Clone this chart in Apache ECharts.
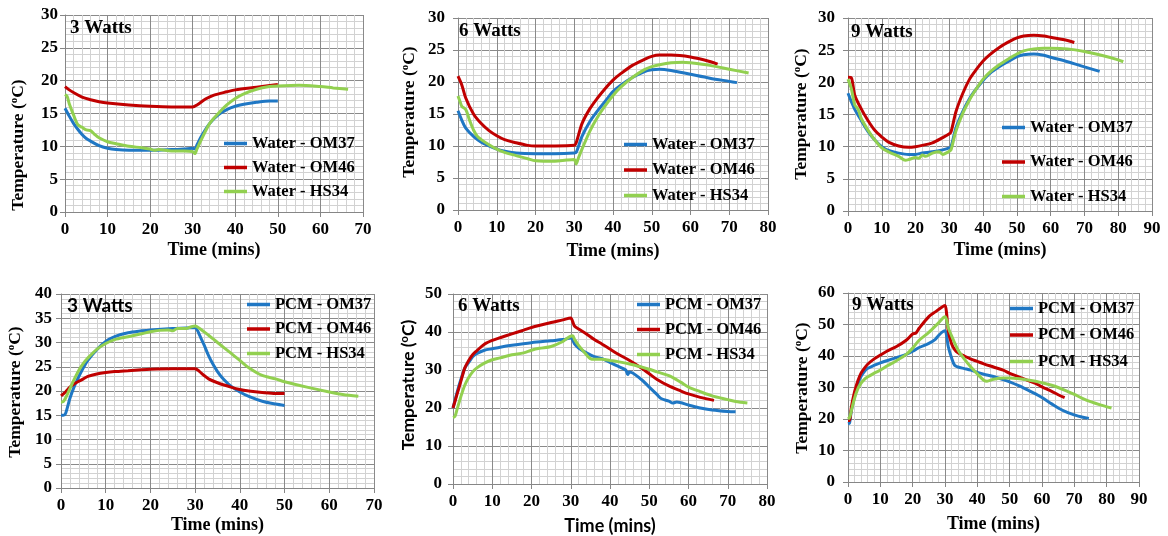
<!DOCTYPE html>
<html><head><meta charset="utf-8">
<script src="https://cdn.jsdelivr.net/npm/echarts@6/dist/echarts.min.js"></script>
<style>html,body{margin:0;padding:0;background:#fff}#c{width:1168px;height:536px}</style>
</head><body><div id="c"></div>
<script>
// ---------- DATA (time in mins, temperature in °C) ----------
const waterNames = ['Water - OM37', 'Water - OM46', 'Water - HS34'];
const pcmNames = ['PCM - OM37', 'PCM - OM46', 'PCM - HS34'];
const panelTitles = ['3 Watts', '6 Watts', '9 Watts', '3 Watts', '6 Watts', '9 Watts'];
const xMaxes = [70, 80, 90, 70, 80, 90];
const yMaxes = [30, 30, 30, 40, 50, 60];
const yIntervals = [5, 5, 5, 5, 10, 10];

const water3_OM37 = [[0,15.8],[1,14.6],[2,13.5],[3,12.6],[4,11.8],[5,11.2],[6,10.8],[8,10.1],[10,9.7],[12,9.5],[15,9.4],[20,9.4],[25,9.5],[28,9.6],[30,9.7],[30.5,9.6],[31,10.2],[32,11.5],[34,13.5],[36,14.8],[38,15.6],[40,16.1],[42,16.4],[45,16.7],[48,16.9],[50,16.9]];
const water3_OM46 = [[0,19.1],[1,18.6],[2,18.2],[4,17.5],[6,17.1],[8,16.8],[10,16.6],[15,16.3],[20,16.1],[25,16.0],[30,16.0],[31,16.3],[33,17.2],[35,17.8],[38,18.3],[40,18.6],[45,19.0],[50,19.4]];
const water3_HS34 = [[0,17.9],[0.5,17.6],[1,16.5],[2,14.8],[3,13.3],[4,12.9],[5,12.5],[6,12.4],[7,11.8],[8,11.3],[10,10.7],[12,10.4],[15,10.0],[18,9.8],[20,9.6],[21,9.4],[22,9.5],[25,9.3],[28,9.3],[30,9.2],[30.5,8.9],[31,9.6],[32,11.0],[34,13.5],[36,15.0],[38,16.3],[40,17.3],[42,18.0],[45,18.7],[48,19.1],[50,19.2],[55,19.3],[60,19.1],[63,18.9],[66.5,18.7]];

const water6_OM37 = [[0,15.5],[1,14.0],[2,12.8],[4,11.5],[6,10.6],[8,10.0],[10,9.5],[12,9.2],[15,8.9],[20,8.8],[25,8.8],[30,8.9],[30.5,9.0],[32,11.5],[34,13.8],[36,15.5],[38,17.0],[40,18.5],[42,19.5],[45,20.7],[48,21.6],[50,21.9],[52,22.0],[55,21.8],[60,21.2],[65,20.6],[70,20.1],[72,19.9]];
const water6_OM46 = [[0,20.9],[1,19.5],[2,17.5],[4,15.0],[6,13.5],[8,12.4],[10,11.6],[12,11.0],[15,10.5],[18,10.1],[20,10.0],[25,10.0],[30,10.1],[30.5,10.5],[32,13.5],[34,15.8],[36,17.5],[38,19.0],[40,20.3],[42,21.3],[45,22.6],[48,23.5],[50,24.0],[52,24.2],[55,24.2],[60,23.9],[65,23.2],[67,22.8]];
const water6_HS34 = [[0,17.8],[0.5,17.0],[1,16.2],[2,15.7],[3,14.0],[4,12.5],[5,11.5],[6,11.0],[8,10.2],[10,9.5],[12,9.0],[15,8.5],[18,8.0],[20,7.7],[25,7.6],[28,7.8],[30,7.9],[30.5,7.2],[31,8.0],[32,9.5],[34,12.3],[36,14.5],[38,16.3],[40,17.9],[42,19.2],[45,20.7],[48,21.9],[50,22.4],[52,22.7],[55,23.0],[58,23.1],[60,23.0],[65,22.6],[70,22.0],[75,21.4]];

const water9_OM37 = [[0,18.3],[1,17.0],[2,15.8],[4,14.0],[6,12.3],[8,11.0],[10,10.0],[12,9.4],[15,9.0],[18,8.8],[20,8.8],[22,9.0],[25,9.2],[28,9.5],[30,9.8],[30.5,10.0],[32,13.0],[34,15.5],[36,17.5],[38,19.0],[40,20.3],[42,21.4],[45,22.5],[48,23.4],[50,24.0],[52,24.3],[55,24.4],[58,24.2],[60,23.9],[65,23.2],[70,22.4],[74.5,21.7]];
const water9_OM46 = [[0,20.8],[1,20.7],[2,18.0],[4,15.8],[6,14.0],[8,12.5],[10,11.5],[12,10.7],[15,10.1],[18,9.9],[20,10.0],[22,10.2],[25,10.6],[28,11.4],[30,12.0],[30.5,12.3],[32,15.5],[34,18.3],[36,20.5],[38,22.0],[40,23.3],[42,24.3],[45,25.5],[48,26.4],[50,26.9],[52,27.2],[55,27.3],[58,27.2],[60,27.0],[65,26.5],[67,26.2]];
const water9_HS34 = [[0,20.5],[1,19.0],[2,16.5],[3,15.8],[4,14.3],[6,12.5],[8,11.0],[10,9.8],[12,9.2],[15,8.5],[17,7.9],[18,8.0],[20,8.3],[21,8.2],[22,8.7],[23,8.5],[25,9.0],[27,9.2],[28,8.8],[29,9.0],[30,9.3],[30.5,9.5],[32,12.5],[34,15.2],[36,17.3],[38,19.0],[40,20.5],[42,21.6],[45,22.8],[48,23.8],[50,24.4],[52,24.9],[55,25.2],[58,25.3],[60,25.3],[65,25.2],[70,24.8],[75,24.2],[80,23.5],[81.5,23.2]];

const pcm3_OM37 = [[0,15.0],[0.5,15.0],[1,15.3],[2,18.5],[3,21.0],[4,23.0],[5,24.8],[6,26.3],[8,28.5],[10,30.2],[12,31.2],[15,32.0],[18,32.4],[20,32.6],[25,32.9],[28,33.0],[30,33.1],[30.5,32.5],[31,31.5],[32,29.5],[33,27.3],[34,25.5],[35,24.0],[36,22.8],[38,21.0],[40,19.8],[42,18.9],[45,17.9],[48,17.3],[50,17.0]];
const pcm3_OM46 = [[0,19.0],[1,19.8],[2,20.8],[3,21.5],[4,22.0],[5,22.5],[6,23.0],[8,23.5],[10,23.8],[12,24.0],[15,24.2],[18,24.4],[20,24.5],[25,24.6],[28,24.6],[30,24.6],[31,24.0],[32,23.2],[33,22.5],[35,21.7],[38,20.8],[40,20.3],[42,20.0],[45,19.7],[48,19.5],[50,19.5]];
const pcm3_HS34 = [[0,17.7],[0.5,17.8],[1,18.5],[2,20.5],[3,22.5],[4,24.3],[5,25.7],[6,26.8],[8,28.6],[10,29.8],[12,30.6],[15,31.2],[18,31.8],[20,32.2],[22,32.5],[24,32.6],[25,32.4],[26,32.9],[28,32.9],[29,33.2],[30,33.4],[31,32.9],[33,31.5],[35,30.0],[38,27.8],[40,26.3],[42,24.8],[45,23.2],[48,22.5],[50,21.9],[55,20.8],[60,19.8],[63,19.3],[66.5,18.9]];

const pcm6_OM37 = [[0,20.0],[1,24.0],[2,27.5],[3,30.5],[4,32.0],[5,33.5],[6,34.3],[8,35.2],[10,35.6],[12,36.0],[15,36.5],[20,37.2],[25,37.7],[28,38.0],[29,38.2],[30,38.5],[31,36.8],[32,35.8],[34,34.5],[36,33.5],[38,33.0],[40,32.0],[42,31.0],[44,30.0],[44.5,28.8],[45,29.5],[48,27.5],[50,25.5],[52,23.5],[53,22.5],[55,21.8],[56,21.3],[57,21.6],[60,20.8],[63,20.0],[66,19.5],[70,19.1],[72,19.0]];
const pcm6_OM46 = [[0,20.0],[1,23.5],[2,27.0],[3,30.5],[4,32.5],[5,34.0],[6,35.0],[8,36.8],[10,37.8],[12,38.5],[15,39.5],[18,40.5],[20,41.2],[25,42.5],[28,43.2],[30,43.7],[30.5,42.7],[31,41.5],[32,40.8],[34,39.5],[36,38.0],[38,36.8],[40,35.5],[42,34.2],[45,32.5],[48,30.5],[50,29.0],[52,27.5],[55,25.8],[58,24.5],[60,23.7],[63,22.8],[66.5,22.0]];
const pcm6_HS34 = [[0,17.5],[0.5,17.8],[1,19.5],[2,23.0],[3,26.0],[4,28.0],[5,29.5],[6,30.5],[8,31.8],[10,32.7],[12,33.2],[15,34.0],[18,34.5],[20,35.2],[22,35.7],[25,36.2],[28,37.5],[29,38.3],[30,38.9],[30.5,39.0],[31,38.0],[32,36.5],[34,34.0],[35,33.0],[36,32.8],[38,32.8],[40,32.5],[42,32.2],[45,31.6],[48,30.8],[50,30.2],[52,29.5],[55,28.5],[58,26.8],[60,25.5],[63,24.3],[66,23.2],[70,22.2],[72,21.7],[75,21.3]];

const pcm9_OM37 = [[0,18.5],[0.5,18.8],[1,22.5],[2,27.0],[3,31.0],[4,33.5],[5,35.0],[6,36.0],[8,37.0],[10,37.8],[12,38.5],[15,39.5],[18,40.5],[20,41.5],[22,42.7],[25,44.0],[27,45.3],[28,46.5],[29,47.5],[30,48.0],[30.5,46.5],[31,43.0],[32,39.5],[33,37.0],[34,36.5],[36,36.0],[38,35.5],[40,34.8],[42,34.2],[45,33.5],[48,32.5],[50,31.8],[53,30.5],[55,29.5],[58,28.0],[60,26.8],[63,24.8],[65,23.5],[68,22.0],[70,21.3],[72,20.7],[74.5,20.2]];
const pcm9_OM46 = [[0,19.5],[0.5,19.5],[1,23.5],[2,28.5],[3,32.0],[4,34.5],[5,36.0],[6,37.3],[8,39.0],[10,40.3],[12,41.5],[15,43.0],[18,45.0],[20,47.0],[21,47.3],[22,48.8],[25,52.5],[27,54.0],[29,55.5],[30,56.0],[30.5,53.5],[31,48.0],[32,44.0],[33,42.0],[34,41.0],[36,40.0],[38,39.0],[40,38.3],[42,37.5],[45,36.5],[48,35.5],[50,34.5],[53,33.3],[55,32.5],[58,31.3],[60,30.2],[63,28.8],[65,27.7],[67,26.8]];
const pcm9_HS34 = [[0,20.0],[0.5,20.5],[1,22.5],[2,26.5],[3,29.5],[4,31.3],[5,32.5],[6,33.3],[8,34.5],[10,35.5],[12,36.8],[15,38.5],[18,40.5],[20,42.5],[22,45.0],[25,47.5],[28,50.5],[30,52.5],[30.5,51.5],[31,49.0],[32,46.5],[34,42.0],[36,39.0],[38,36.5],[40,34.3],[42,32.3],[43,32.0],[45,32.6],[48,33.0],[50,33.0],[53,32.8],[55,32.5],[58,32.0],[60,31.5],[63,30.7],[65,30.0],[68,28.7],[70,27.8],[73,26.3],[75,25.5],[78,24.5],[81.5,23.5]];

const panelData = [
  [water3_OM37, water3_OM46, water3_HS34],
  [water6_OM37, water6_OM46, water6_HS34],
  [water9_OM37, water9_OM46, water9_HS34],
  [pcm3_OM37, pcm3_OM46, pcm3_HS34],
  [pcm6_OM37, pcm6_OM46, pcm6_HS34],
  [pcm9_OM37, pcm9_OM46, pcm9_HS34]
];
const panelNames = [waterNames, waterNames, waterNames, pcmNames, pcmNames, pcmNames];

// ---------- LAYOUT / STYLE ----------
const COLORS = ['#1f77c4', '#c00000', '#92d050'];
const SERIF = '"Liberation Serif", "Times New Roman", serif';
const SANS = 'Lato, "Open Sans", sans-serif';
const layout = [
  {grid:{left:65,top:15,width:298,height:197}, legend:{left:224,top:135,gap:7}, yName:[18,145], xGap:29, title:[70,28], titleSans:false, axisSans:false, yMargin:7},
  {grid:{left:458,top:18,width:310,height:192}, legend:{left:624,top:136,gap:8.5}, yName:[409,112], xGap:32, title:[459,31], titleSans:false, axisSans:false, yMargin:13},
  {grid:{left:848,top:18,width:304,height:193}, legend:{left:1002,top:119,gap:17.5}, yName:[801,114], xGap:30, title:[851,32], titleSans:false, axisSans:false, yMargin:13},
  {grid:{left:61,top:294,width:313,height:194}, legend:{left:247,top:296,gap:7.5}, yName:[15,392], xGap:28, title:[67,306], titleSans:true, axisSans:false, yMargin:9},
  {grid:{left:453,top:294,width:314,height:190}, legend:{left:637,top:296,gap:8}, yName:[408,385], xGap:33, title:[458,306], titleSans:false, axisSans:true, yMargin:11},
  {grid:{left:848,top:293,width:291,height:189}, legend:{left:1010,top:300,gap:9.5}, yName:[802,388], xGap:33, title:[852,305], titleSans:false, axisSans:false, yMargin:13}
];

const grids = [], xAxes = [], yAxes = [], series = [], legends = [], graphics = [];
const majorLine = {show:true, lineStyle:{color:'#8a8a8a', width:1}};
const minorLine = {show:true, lineStyle:{color:'#d2d2d2', width:1}};

layout.forEach((L, i) => {
  grids.push(Object.assign({containLabel:false}, L.grid));
  const axisFont = L.axisSans ? SANS : SERIF;
  xAxes.push({
    type:'value', gridIndex:i, min:0, max:xMaxes[i], interval:10,
    name:'Time (mins)', nameLocation:'middle', nameGap:L.xGap,
    nameTextStyle:{fontFamily:axisFont, fontWeight:'bold', fontSize:18, color:'#000'},
    axisLine:{show:true, onZero:false, lineStyle:{color:'#868686', width:1}},
    axisTick:{show:true, length:5, lineStyle:{color:'#868686'}},
    axisLabel:{fontFamily:SERIF, fontWeight:'bold', fontSize:17, color:'#000', margin:9},
    splitLine:majorLine, minorTick:{show:false, splitNumber:5}, minorSplitLine:minorLine
  });
  yAxes.push({
    type:'value', gridIndex:i, min:0, max:yMaxes[i], interval:yIntervals[i],
    axisLine:{show:true, onZero:false, lineStyle:{color:'#868686', width:1}},
    axisTick:{show:true, length:5, lineStyle:{color:'#868686'}},
    axisLabel:{fontFamily:SERIF, fontWeight:'bold', fontSize:17, color:'#000', margin:L.yMargin},
    splitLine:majorLine, minorTick:{show:false, splitNumber:5}, minorSplitLine:minorLine
  });
  panelData[i].forEach((d, k) => {
    series.push({
      type:'line', name:panelNames[i][k], xAxisIndex:i, yAxisIndex:i, data:d,
      symbol:'none', smooth:0.3, color:COLORS[k], lineStyle:{width:3, color:COLORS[k]}
    });
  });
  legends.push({
    data:panelNames[i], orient:'vertical', left:L.legend.left, top:L.legend.top,
    itemGap:L.legend.gap, itemWidth:23, itemHeight:3.5, padding:0, icon:'rect',
    selectedMode:false,
    textStyle:{fontFamily:SERIF, fontWeight:'bold', fontSize:16.5, color:'#000', lineHeight:16}
  });
  const titleFont = L.titleSans ? SANS : SERIF;
  graphics.push({
    type:'text', x:L.title[0], y:L.title[1], z:100,
    style:{text:panelTitles[i], fontFamily:titleFont, fontWeight:'bold', fontSize:19, fill:'#000', align:'left', verticalAlign:'middle'}
  });
  graphics.push({
    type:'text', x:L.yName[0], y:L.yName[1], rotation:Math.PI/2, z:100,
    style:{text:'Temperature ({s|o}C)', fontFamily:axisFont, fontWeight:'bold', fontSize:17.5, fill:'#000', align:'center', verticalAlign:'middle',
      rich:{s:{fontFamily:axisFont, fontWeight:'bold', fontSize:11, fill:'#000', verticalAlign:'top'}}}
  });
});

const chart = echarts.init(document.getElementById('c'), null, {renderer:'canvas'});
chart.setOption({
  animation:false, backgroundColor:'#fff',
  grid:grids, xAxis:xAxes, yAxis:yAxes, series:series, legend:legends, graphic:graphics
});
</script>
</body></html>
